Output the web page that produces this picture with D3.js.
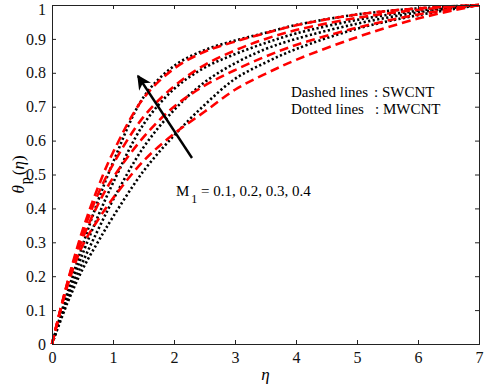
<!DOCTYPE html>
<html><head><meta charset="utf-8">
<script src="https://cdn.jsdelivr.net/npm/d3@7/dist/d3.min.js"></script>
<style>body{margin:0;background:#fff}svg{display:block}text{font-family:"Liberation Serif","Times New Roman",serif}</style>
</head><body><svg id="c" width="484" height="389"></svg>
<script>
const eta = [0, 0.25, 0.5, 0.75, 1, 1.5, 2, 2.5, 3, 3.5, 4, 5, 6, 7];
// SWCNT (dashed red), M1 = 0.1 .. 0.4
const swcnt_M01 = [0, 0.17, 0.29, 0.365, 0.43, 0.54, 0.62, 0.685, 0.75, 0.797, 0.838, 0.905, 0.96, 1];
const swcnt_M02 = [0, 0.175, 0.31, 0.41, 0.49, 0.61, 0.70, 0.762, 0.808, 0.848, 0.882, 0.933, 0.972, 1];
const swcnt_M03 = [0, 0.178, 0.325, 0.44, 0.53, 0.67, 0.76, 0.823, 0.866, 0.90, 0.926, 0.962, 0.986, 1];
const swcnt_M04 = [0, 0.18, 0.335, 0.46, 0.565, 0.725, 0.812, 0.862, 0.892, 0.917, 0.94, 0.972, 0.99, 1];
// MWCNT (dotted black)
const mwcnt_M01 = [0, 0.12, 0.22, 0.30, 0.375, 0.51, 0.615, 0.705, 0.782, 0.83, 0.87, 0.93, 0.97, 1];
const mwcnt_M02 = [0, 0.13, 0.24, 0.335, 0.425, 0.58, 0.69, 0.772, 0.828, 0.87, 0.90, 0.945, 0.978, 1];
const mwcnt_M03 = [0, 0.14, 0.265, 0.375, 0.475, 0.648, 0.752, 0.815, 0.855, 0.888, 0.916, 0.956, 0.983, 1];
const mwcnt_M04 = [0, 0.15, 0.29, 0.42, 0.535, 0.728, 0.82, 0.867, 0.895, 0.918, 0.941, 0.972, 0.99, 1];
const xTicks = [0, 1, 2, 3, 4, 5, 6, 7];
const yTicks = [0, 0.1, 0.2, 0.3, 0.4, 0.5, 0.6, 0.7, 0.8, 0.9, 1];

const svg = d3.select("#c");
const L = 52, R = 479, T = 5, B = 344;
const x = d3.scaleLinear().domain([0, 7]).range([L, R]);
const y = d3.scaleLinear().domain([0, 1]).range([B, T]);

const line = d3.line().x(d => x(d[0])).y(d => y(d[1])).curve(d3.curveCatmullRom.alpha(0.5));
const dashed = [swcnt_M01, swcnt_M02, swcnt_M03, swcnt_M04];
const dotted = [mwcnt_M01, mwcnt_M02, mwcnt_M03, mwcnt_M04];

const g = svg.append("g");
dotted.forEach(s => g.append("path").datum(eta.map((e, i) => [e, s[i]]))
  .attr("d", line).attr("fill", "none").attr("stroke", "#000").attr("stroke-width", 2.6)
  .attr("stroke-dasharray", "2.2,2.4"));
dashed.forEach(s => g.append("path").datum(eta.map((e, i) => [e, s[i]]))
  .attr("d", line).attr("fill", "none").attr("stroke", "#ff0000").attr("stroke-width", 2.6)
  .attr("stroke-dasharray", "9,5"));

// axes
const fs = "16px";
const ax = svg.append("g").attr("transform", `translate(0,${B})`)
  .call(d3.axisBottom(x).tickValues(xTicks).tickSize(-4).tickPadding(8).tickFormat(d3.format("d")));
const ay = svg.append("g").attr("transform", `translate(${L},0)`)
  .call(d3.axisLeft(y).tickValues(yTicks).tickSize(-4).tickPadding(6).tickFormat(d => d === 0 ? "0" : d === 1 ? "1" : d3.format(".1f")(d)));
const axT = svg.append("g").attr("transform", `translate(0,${T})`)
  .call(d3.axisTop(x).tickValues(xTicks).tickSize(-4).tickFormat(""));
const ayR = svg.append("g").attr("transform", `translate(${R},0)`)
  .call(d3.axisRight(y).tickValues(yTicks).tickSize(-4).tickFormat(""));
[ax, ay, axT, ayR].forEach(a => {
  a.selectAll("path").attr("stroke", "#222").attr("stroke-width", 1);
  a.selectAll("line").attr("stroke", "#222");
  a.selectAll("text").attr("font-size", fs).attr("fill", "#111")
    .style("font-family", '"Liberation Serif","Times New Roman",serif');
});
ay.selectAll(".tick").filter(d => d === 1).select("text").attr("dy", "0.62em");

// axis labels
svg.append("text").attr("x", (L + R) / 2).attr("y", 380).attr("text-anchor", "middle")
  .attr("font-size", "17px").attr("font-style", "italic").text("η");
const yl = svg.append("text").attr("transform", `translate(24,${(T + B) / 2}) rotate(-90)`)
  .attr("text-anchor", "middle").attr("font-size", "17px");
yl.append("tspan").attr("font-style", "italic").text("θ");
yl.append("tspan").attr("dx", 1).attr("dy", 6).attr("font-size", "14px").text("p");
yl.append("tspan").attr("dx", 2).attr("dy", -6).text("(");
yl.append("tspan").attr("font-style", "italic").text("η");
yl.append("tspan").text(")");

// annotations
svg.append("text").attr("x", 291).attr("y", 97).attr("font-size", "15px").text("Dashed lines");
svg.append("text").attr("x", 374).attr("y", 97).attr("font-size", "15px").text(": SWCNT");
svg.append("text").attr("x", 291).attr("y", 114).attr("font-size", "15px").text("Dotted lines");
svg.append("text").attr("x", 375).attr("y", 114).attr("font-size", "15px").text(": MWCNT");
const mt = svg.append("text").attr("x", 176).attr("y", 196).attr("font-size", "15px");
mt.append("tspan").text("M");
mt.append("tspan").attr("dx", 2).attr("dy", 7).attr("font-size", "12px").text("1");
mt.append("tspan").attr("dy", -7).text(" = 0.1, 0.2, 0.3, 0.4");

// arrow
const defs = svg.append("defs");
defs.append("marker").attr("id", "ah").attr("viewBox", "0 0 10 10").attr("refX", 9).attr("refY", 5)
  .attr("markerWidth", 6.5).attr("markerHeight", 6).attr("orient", "auto").attr("markerUnits", "strokeWidth")
  .append("path").attr("d", "M0,0 L10,5 L0,10 L3,5 Z").attr("fill", "#000");
svg.append("line").attr("x1", 192).attr("y1", 158).attr("x2", 138).attr("y2", 76)
  .attr("stroke", "#000").attr("stroke-width", 2.4).attr("marker-end", "url(#ah)");
</script></body></html>
